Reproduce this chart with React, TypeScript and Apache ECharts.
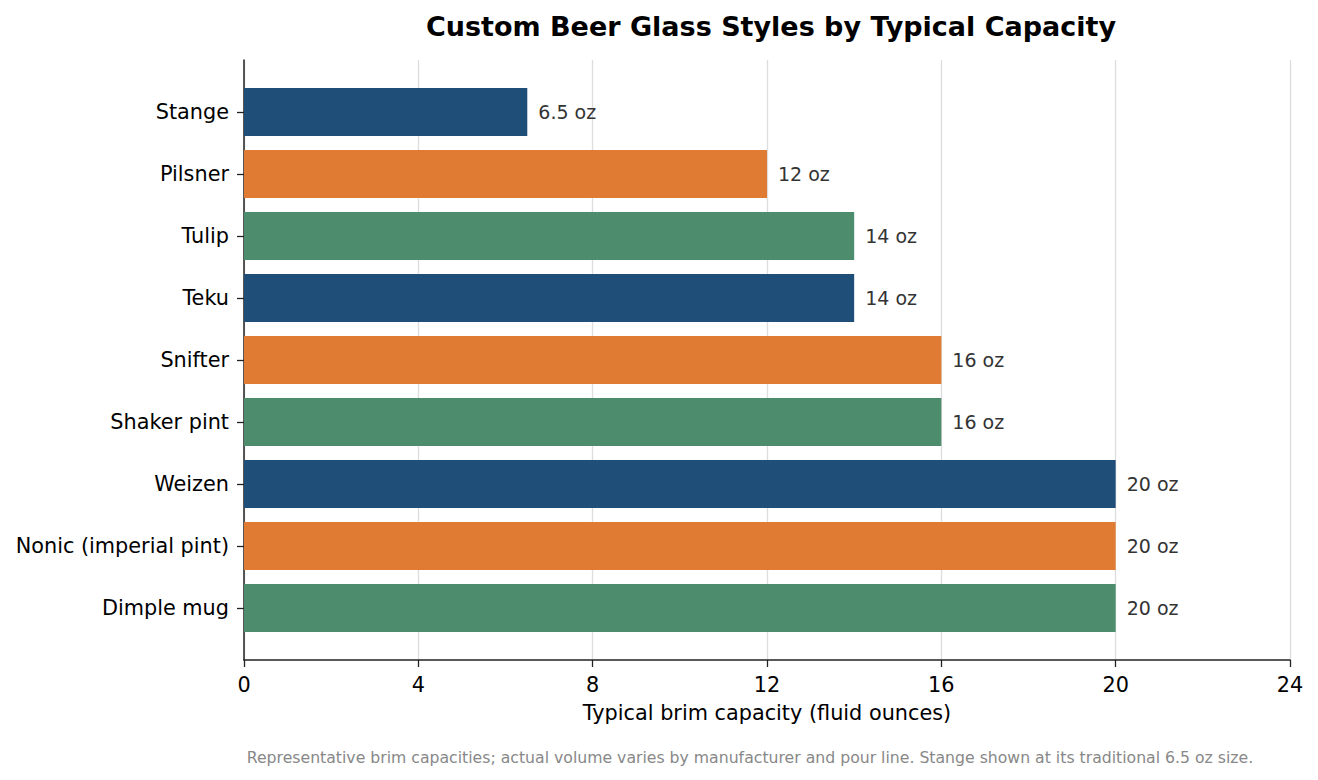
import { useEffect, useRef } from "react";
import * as echarts from "echarts";

const glassStyles = [
  "Stange",
  "Pilsner",
  "Tulip",
  "Teku",
  "Snifter",
  "Shaker pint",
  "Weizen",
  "Nonic (imperial pint)",
  "Dimple mug",
];
const capacities = [6.5, 12, 14, 14, 16, 16, 20, 20, 20];
const barColors = ["#1f4e79", "#e07b33", "#4e8c6e"];
const xTicks = [0, 4, 8, 12, 16, 20, 24];

const FONT = "DejaVu Sans, sans-serif";

export default function App() {
  const chartRef = useRef<HTMLDivElement>(null);

  useEffect(() => {
    if (!chartRef.current) return;
    const chart = echarts.init(chartRef.current, null, { renderer: "svg" });

    chart.setOption({
      animation: false,
      backgroundColor: "#ffffff",
      textStyle: { fontFamily: FONT },
      title: [
        {
          text: "Custom Beer Glass Styles by Typical Capacity",
          left: 766,
          top: 8,
          textAlign: "center",
          textStyle: { fontFamily: FONT, fontSize: 27, fontWeight: "bold", color: "#000" },
        },
        {
          text: "Representative brim capacities; actual volume varies by manufacturer and pour line. Stange shown at its traditional 6.5 oz size.",
          left: 745,
          top: 744,
          textAlign: "center",
          textStyle: { fontFamily: FONT, fontSize: 15.7, fontWeight: "normal", color: "#888888" },
        },
      ],
      grid: [
        // frame: gridlines, x axis, left spine
        { left: 244, right: 28, top: 60, height: 600 },
        // bars, padded like matplotlib margins
        { left: 244, right: 28, top: 81, height: 558 },
      ],
      xAxis: [
        {
          gridIndex: 0,
          type: "value",
          min: xTicks[0],
          max: xTicks[xTicks.length - 1],
          interval: 4,
          name: "Typical brim capacity (fluid ounces)",
          nameLocation: "middle",
          nameGap: 42,
          nameTextStyle: { fontFamily: FONT, fontSize: 20.8, color: "#000" },
          axisLine: { show: true, lineStyle: { color: "#222", width: 1.5 } },
          axisTick: { show: true, length: 7, lineStyle: { color: "#222", width: 1.3 } },
          axisLabel: { fontFamily: FONT, fontSize: 20.8, color: "#000", margin: 14 },
          splitLine: { show: true, lineStyle: { color: "#dddddd", width: 1.3 } },
        },
        {
          gridIndex: 1,
          type: "value",
          min: xTicks[0],
          max: xTicks[xTicks.length - 1],
          show: false,
        },
      ],
      yAxis: [
        {
          gridIndex: 0,
          type: "value",
          min: 0,
          max: 1,
          axisLine: { show: true, lineStyle: { color: "#222", width: 1.5 } },
          axisTick: { show: false },
          axisLabel: { show: false },
          splitLine: { show: false },
        },
        {
          gridIndex: 1,
          type: "category",
          data: glassStyles,
          inverse: true,
          axisLine: { show: false },
          axisTick: { show: true, alignWithLabel: true, length: 7, lineStyle: { color: "#222", width: 1.3 } },
          axisLabel: { fontFamily: FONT, fontSize: 20.8, color: "#000", margin: 15 },
          splitLine: { show: false },
        },
      ],
      series: [
        {
          type: "bar",
          xAxisIndex: 1,
          yAxisIndex: 1,
          barWidth: 48,
          data: capacities.map((v, i) => ({
            value: v,
            itemStyle: { color: barColors[i % barColors.length] },
          })),
          label: {
            show: true,
            position: "right",
            distance: 11,
            formatter: (p: any) => `${p.value} oz`,
            fontFamily: FONT,
            fontSize: 19,
            color: "#333333",
          },
        },
      ],
    });

    return () => chart.dispose();
  }, []);

  return <div ref={chartRef} style={{ width: 1318, height: 780, margin: -8 }} />;
}
